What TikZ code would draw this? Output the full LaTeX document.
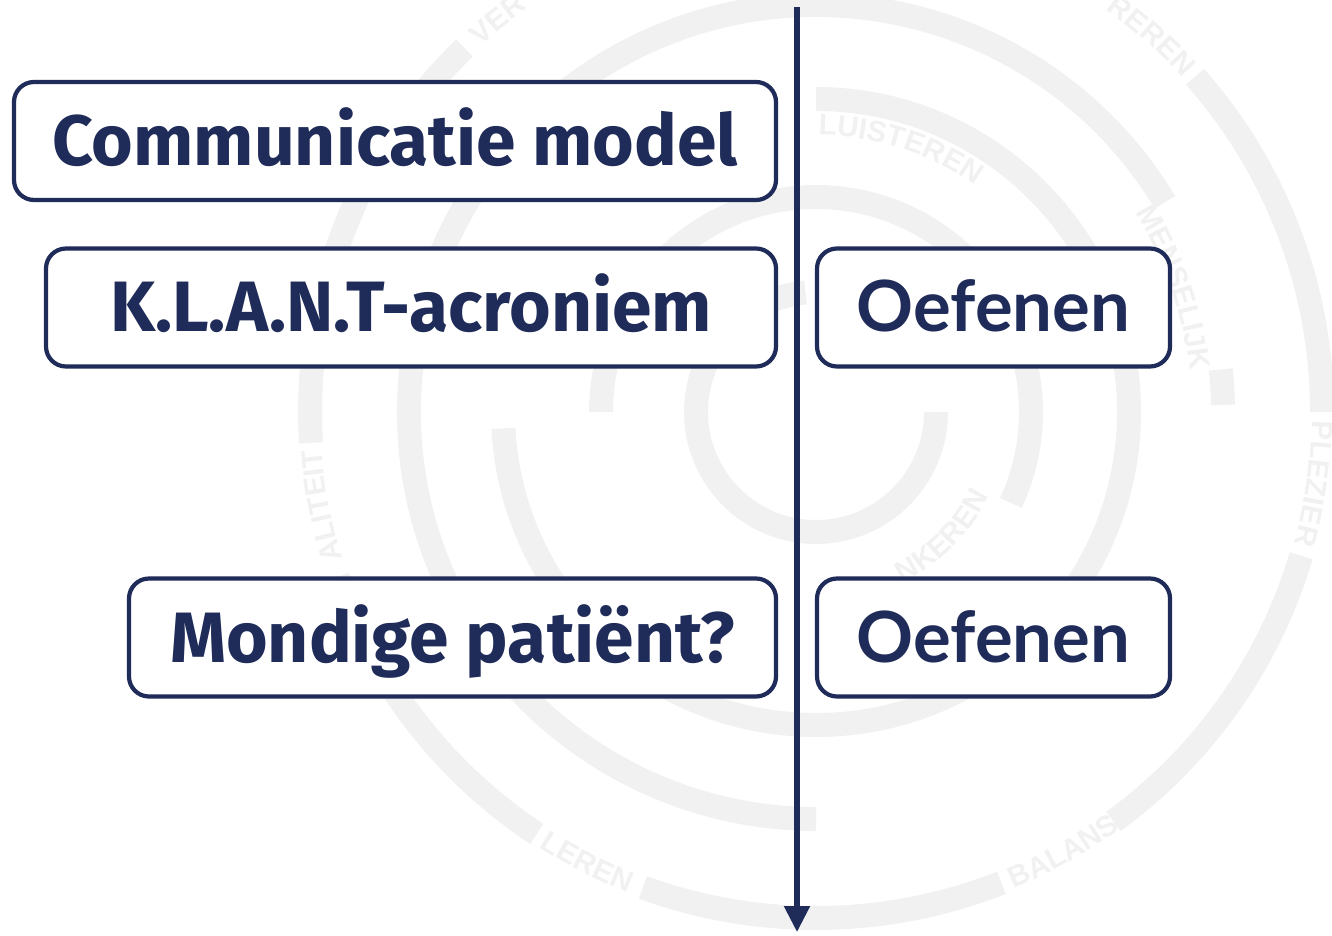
\documentclass[tikz,border=0pt]{standalone}
\usepackage{fontspec}
\setmainfont{Fira Sans}
\newfontfamily\oefenfont{Lato}
\newfontfamily\wmfont{Liberation Sans}
\usetikzlibrary{arrows.meta, calc, decorations.text}
\definecolor{navy}{RGB}{31, 43, 88}
\definecolor{wmgray}{RGB}{241, 241, 241}
\newcommand{\wmstyle}{\wmfont\bfseries\fontsize{8.4}{9}\selectfont\color{wmgray}}

\begin{document}
\begin{tikzpicture}[
    topicbox/.style={draw=navy, line width=1.2pt, rounded corners=0.2cm, fill=white, text=navy,
      font=\fontsize{20.3}{24}\selectfont\bfseries, text height=0.49cm, text depth=0cm,
      minimum height=1.18cm, inner sep=0pt},
    practicebox/.style={topicbox, font=\oefenfont\fontsize{20.1}{24}\selectfont\bfseries, minimum width=3.53cm},
    ring/.style={wmgray, line width=0.24cm},
    wmtext/.style={decorate, decoration={text along path, text={|\wmstyle|#1}}}
  ]
  \useasboundingbox (0, 0) rectangle (13.32, 9.35);

  % ===== Watermark rings =====
  \begin{scope}
    \clip (0, 0) rectangle (13.32, 9.35);
    \coordinate (c) at (8.16, 5.23);

    \draw[ring] ($(c)+(0:1.20)$) arc[start angle=0, end angle=-265, radius=1.20];
    \draw[ring] ($(c)+(180:2.15)$) arc[start angle=180, end angle=-25, radius=2.15];
    \draw[ring] ($(c)+(90:3.13)$) arc[start angle=90, end angle=-177, radius=3.13];
    \draw[ring] ($(c)+(31:4.07)$) arc[start angle=31, end angle=270, radius=4.07];
    \draw[ring] ($(c)+(1:4.07)$) arc[start angle=1, end angle=6, radius=4.07];
    \draw[ring] ($(c)+(134:5.06)$) arc[start angle=134, end angle=183.5, radius=5.06];
    \draw[ring] ($(c)+(199:5.06)$) arc[start angle=199, end angle=236.5, radius=5.06];
    \draw[ring] ($(c)+(250:5.06)$) arc[start angle=250, end angle=291.5, radius=5.06];
    \draw[ring] ($(c)+(306:5.06)$) arc[start angle=306, end angle=343.5, radius=5.06];
    \draw[ring] ($(c)+(0:5.06)$) arc[start angle=0, end angle=41.5, radius=5.06];

    % words on the rings
    \path[wmtext=LUISTEREN, decoration={text align=left}] ($(c)+(89.5:2.77)$) arc[start angle=89.5, end angle=40, radius=2.77];
    \path[wmtext=MENSELIJK, decoration={text align=left}] ($(c)+(32:3.76)$) arc[start angle=32, end angle=0, radius=3.76];
    \path[wmtext=NKEREN, decoration={text align=right}] ($(c)+(-80:1.92)$) arc[start angle=-80, end angle=-26, radius=1.92];
    \path[wmtext=ALITEIT, decoration={text align=right}] ($(c)+(215:4.96)$) arc[start angle=215, end angle=184.3, radius=4.96];
    \path[wmtext=VER, decoration={text align=left}] ($(c)+(132.5:4.96)$) arc[start angle=132.5, end angle=100, radius=4.96];
    \path[wmtext=REREN, decoration={text align=right}] ($(c)+(70:4.96)$) arc[start angle=70, end angle=42.3, radius=4.96];
    \path[wmtext=PLEZIER, decoration={text align=left}] ($(c)+(359:4.96)$) arc[start angle=359, end angle=330, radius=4.96];
    \path[wmtext=BALANS, decoration={text align=left}] ($(c)+(292.5:5.16)$) arc[start angle=292.5, end angle=320, radius=5.16];
    \path[wmtext=LEREN, decoration={text align=left}] ($(c)+(237.5:5.16)$) arc[start angle=237.5, end angle=260, radius=5.16];
  \end{scope}

  % ===== Timeline =====
  \coordinate (top) at (7.97, 9.28);
  \coordinate (bottom) at (7.97, 0.03);
  \draw[navy, line width=1.5pt, -{Triangle[width=0.25cm, length=0.26cm]}] (top) -- (bottom);

  % ===== Left topics =====
  \node[topicbox, minimum width=7.62cm] (model) at (3.95, 7.94) {Communicatie model};
  \node[topicbox, minimum width=7.30cm] (klant) at (4.11, 6.275) {K.L.A.N.T-acroniem};
  \node[topicbox, minimum width=6.47cm] (mondig) at (4.525, 2.975) {Mondige patiënt?};

  % ===== Right practice =====
  \node[practicebox] (oefen1) at (9.935, 6.275) {Oefenen};
  \node[practicebox] (oefen2) at (9.935, 2.975) {Oefenen};
\end{tikzpicture}
\end{document}
